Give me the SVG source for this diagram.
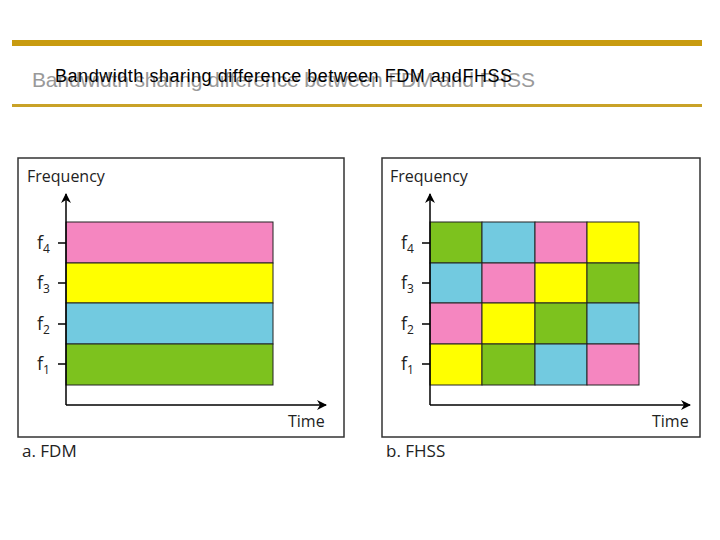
<svg xmlns="http://www.w3.org/2000/svg" width="720" height="540" viewBox="0 0 720 540">
<defs>
<marker id="ar" markerWidth="10" markerHeight="10" refX="9" refY="5" orient="auto" markerUnits="userSpaceOnUse"><path d="M0,0 L10,5 L0,10 L3,5 Z" fill="#000"/></marker>
<style>
.t{font-family:"Open Sans","Liberation Sans",sans-serif;fill:#222}
.ax{stroke:#000;stroke-width:1.5;fill:none}
.c{stroke:#222;stroke-width:1}
.p{fill:#F586C0}.y{fill:#FFFF00}.b{fill:#72CAE0}.g{fill:#7DC21E}
</style>
</defs>
<rect width="720" height="540" fill="#fff"/>
<rect x="12" y="40" width="690" height="6" fill="#C89B10"/>
<rect x="12" y="104" width="690" height="3" fill="#C9A227"/>
<text x="32" y="87" font-family="Liberation Sans,sans-serif" font-size="21" fill="#999" textLength="503">Bandwidth sharing difference between FDM and FHSS</text>
<text x="55" y="82" font-family="Liberation Sans,sans-serif" font-size="18" fill="#000" textLength="457">Bandwidth sharing difference between FDM andFHSS</text>
<g id="fdm">
<rect x="18" y="158" width="326" height="279" fill="#fff" stroke="#333" stroke-width="1.5"/>
<text class="t" x="27" y="182" font-size="16">Frequency</text>
<rect class="c p" x="66" y="222" width="207" height="41"/>
<rect class="c y" x="66" y="263" width="207" height="40"/>
<rect class="c b" x="66" y="303" width="207" height="41"/>
<rect class="c g" x="66" y="344" width="207" height="41"/>
<path class="ax" d="M66,405 V194" marker-end="url(#ar)"/>
<path class="ax" d="M66,405 H326" marker-end="url(#ar)"/>
<path class="ax" d="M58,243H66M58,283H66M58,324H66M58,364H66"/>
<g class="t" font-size="18"><text x="37" y="249">f<tspan font-size="12" dy="4">4</tspan></text><text x="37" y="289">f<tspan font-size="12" dy="4">3</tspan></text><text x="37" y="330">f<tspan font-size="12" dy="4">2</tspan></text><text x="37" y="370">f<tspan font-size="12" dy="4">1</tspan></text></g>
<text class="t" x="288" y="427" font-size="16">Time</text>
<text class="t" x="22" y="457" font-size="17">a. FDM</text>
</g>
<g id="fhss">
<rect x="382" y="158" width="318" height="279" fill="#fff" stroke="#333" stroke-width="1.5"/>
<text class="t" x="390" y="182" font-size="16">Frequency</text>
<rect class="c g" x="430" y="222" width="52" height="41"/><rect class="c b" x="482" y="222" width="53" height="41"/><rect class="c p" x="535" y="222" width="52" height="41"/><rect class="c y" x="587" y="222" width="52" height="41"/>
<rect class="c b" x="430" y="263" width="52" height="40"/><rect class="c p" x="482" y="263" width="53" height="40"/><rect class="c y" x="535" y="263" width="52" height="40"/><rect class="c g" x="587" y="263" width="52" height="40"/>
<rect class="c p" x="430" y="303" width="52" height="41"/><rect class="c y" x="482" y="303" width="53" height="41"/><rect class="c g" x="535" y="303" width="52" height="41"/><rect class="c b" x="587" y="303" width="52" height="41"/>
<rect class="c y" x="430" y="344" width="52" height="41"/><rect class="c g" x="482" y="344" width="53" height="41"/><rect class="c b" x="535" y="344" width="52" height="41"/><rect class="c p" x="587" y="344" width="52" height="41"/>
<path class="ax" d="M430,405 V194" marker-end="url(#ar)"/>
<path class="ax" d="M430,405 H690" marker-end="url(#ar)"/>
<path class="ax" d="M422,243H430M422,283H430M422,324H430M422,364H430"/>
<g class="t" font-size="18"><text x="401" y="249">f<tspan font-size="12" dy="4">4</tspan></text><text x="401" y="289">f<tspan font-size="12" dy="4">3</tspan></text><text x="401" y="330">f<tspan font-size="12" dy="4">2</tspan></text><text x="401" y="370">f<tspan font-size="12" dy="4">1</tspan></text></g>
<text class="t" x="652" y="427" font-size="16">Time</text>
<text class="t" x="386" y="457" font-size="17">b. FHSS</text>
</g>
</svg>
